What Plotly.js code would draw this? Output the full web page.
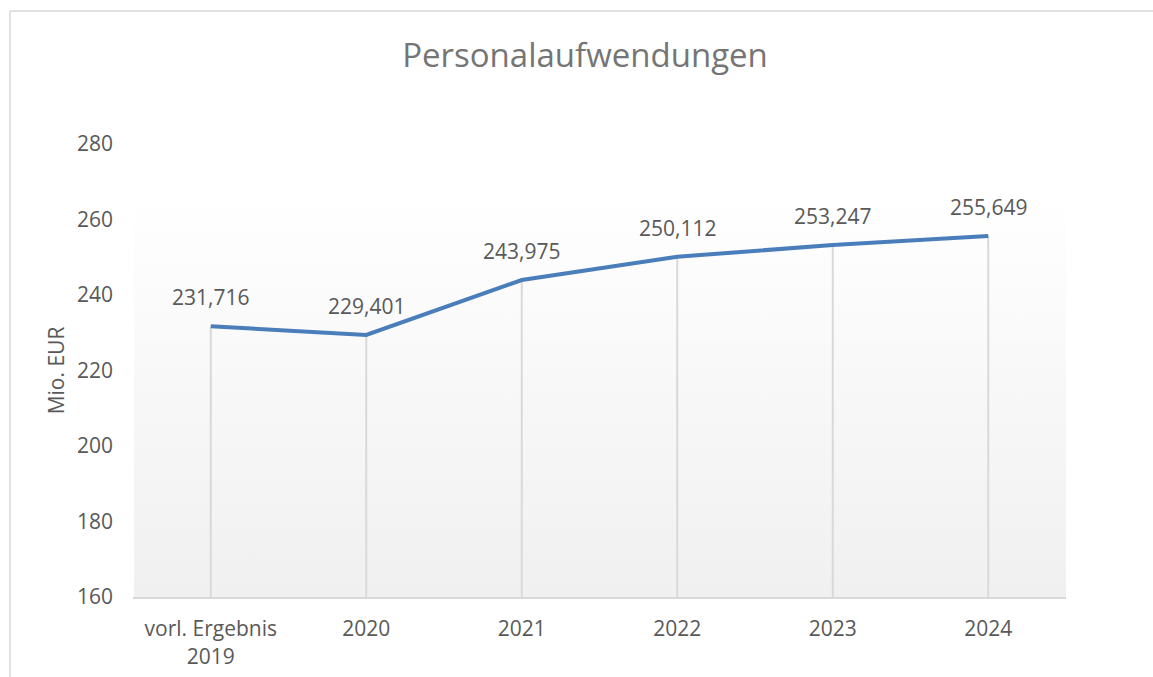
<!DOCTYPE html>
<html>
<head>
<meta charset="utf-8">
<script src="https://cdn.plot.ly/plotly-3.0.1.min.js"></script>
<style>html,body{margin:0;padding:0;background:#fff;}#chart{width:1153px;height:677px;}</style>
</head>
<body>
<div id="chart"></div>
<script>
const categories = ["vorl. Ergebnis<br>2019", "2020", "2021", "2022", "2023", "2024"];
const values = [231.716, 229.401, 243.975, 250.112, 253.247, 255.649];
const valueLabels = ["231,716", "229,401", "243,975", "250,112", "253,247", "255,649"];
const yTicks = [160, 180, 200, 220, 240, 260, 280];

const FONT = "'Open Sans', sans-serif";
const GREY = "#595959";

const L = 133, R = 87, T = 144, B = 80, W = 1153, H = 677;
const pw = W - L - R, ph = H - T - B;
const px = x => (x - L) / pw;
const py = y => (H - B - y) / ph;

const gradSvg = '<svg xmlns="http://www.w3.org/2000/svg" width="100" height="100" preserveAspectRatio="none">' +
  '<defs><linearGradient id="g" x1="0" y1="0" x2="0" y2="1">' +
  '<stop offset="0" stop-color="#ffffff"/><stop offset="1" stop-color="#f0f0f0"/></linearGradient></defs>' +
  '<rect width="100" height="100" fill="url(#g)"/></svg>';
const gradUri = "data:image/svg+xml;base64," + btoa(gradSvg);

const shapes = [];
categories.forEach((c, i) => {
  shapes.push({type: "line", xref: "x", yref: "y", x0: i, x1: i, y0: 160, y1: values[i],
    line: {color: "#d9d9d9", width: 2}, layer: "below"});
});
shapes.push({type: "line", xref: "paper", yref: "paper", x0: px(10), x1: px(1153), y0: py(11), y1: py(11),
  line: {color: "#d9d9d9", width: 1.5}});
shapes.push({type: "line", xref: "paper", yref: "paper", x0: px(10), x1: px(10), y0: py(11), y1: py(677),
  line: {color: "#d9d9d9", width: 1.5}});

const annotations = categories.map((c, i) => ({
  x: i, y: values[i], xref: "x", yref: "y", text: valueLabels[i], showarrow: false,
  yanchor: "bottom", yshift: 13, font: {family: FONT, size: 21, color: GREY}
}));

const trace = {
  x: categories.map((c, i) => i), y: values, type: "scatter", mode: "lines",
  line: {color: "#4a7ebb", width: 4}, hoverinfo: "skip"
};

const layout = {
  width: W, height: H,
  margin: {l: L, r: R, t: T, b: B, pad: 0},
  paper_bgcolor: "#ffffff", plot_bgcolor: "rgba(0,0,0,0)",
  showlegend: false,
  title: {text: "Personalaufwendungen", x: 585 / W, xref: "container", xanchor: "center",
    y: 1 - 55 / H, yref: "container", yanchor: "middle",
    font: {family: FONT, size: 33, color: "#757575"}},
  xaxis: {
    range: [-0.5, 5.5], tickmode: "array", tickvals: categories.map((c, i) => i), ticktext: categories,
    showgrid: false, zeroline: false, showline: true, linecolor: "#d9d9d9", linewidth: 2,
    ticks: "", tickfont: {family: FONT, size: 21, color: GREY}, ticklabelstandoff: 12, fixedrange: true
  },
  yaxis: {
    range: [160, 280], tickmode: "array", tickvals: yTicks,
    showgrid: false, zeroline: false, showline: false, ticks: "",
    tickfont: {family: FONT, size: 21, color: GREY}, ticklabelstandoff: 19,
    title: {text: "Mio. EUR", font: {family: FONT, size: 21, color: GREY}, standoff: 6},
    fixedrange: true
  },
  shapes: shapes,
  annotations: annotations,
  images: [{source: gradUri, xref: "paper", yref: "paper", x: px(134), y: py(195),
    sizex: px(1066) - px(134), sizey: py(195) - py(597), xanchor: "left", yanchor: "top",
    sizing: "stretch", layer: "below"}]
};

Plotly.newPlot("chart", [trace], layout, {staticPlot: true, displayModeBar: false});
</script>
</body>
</html>
